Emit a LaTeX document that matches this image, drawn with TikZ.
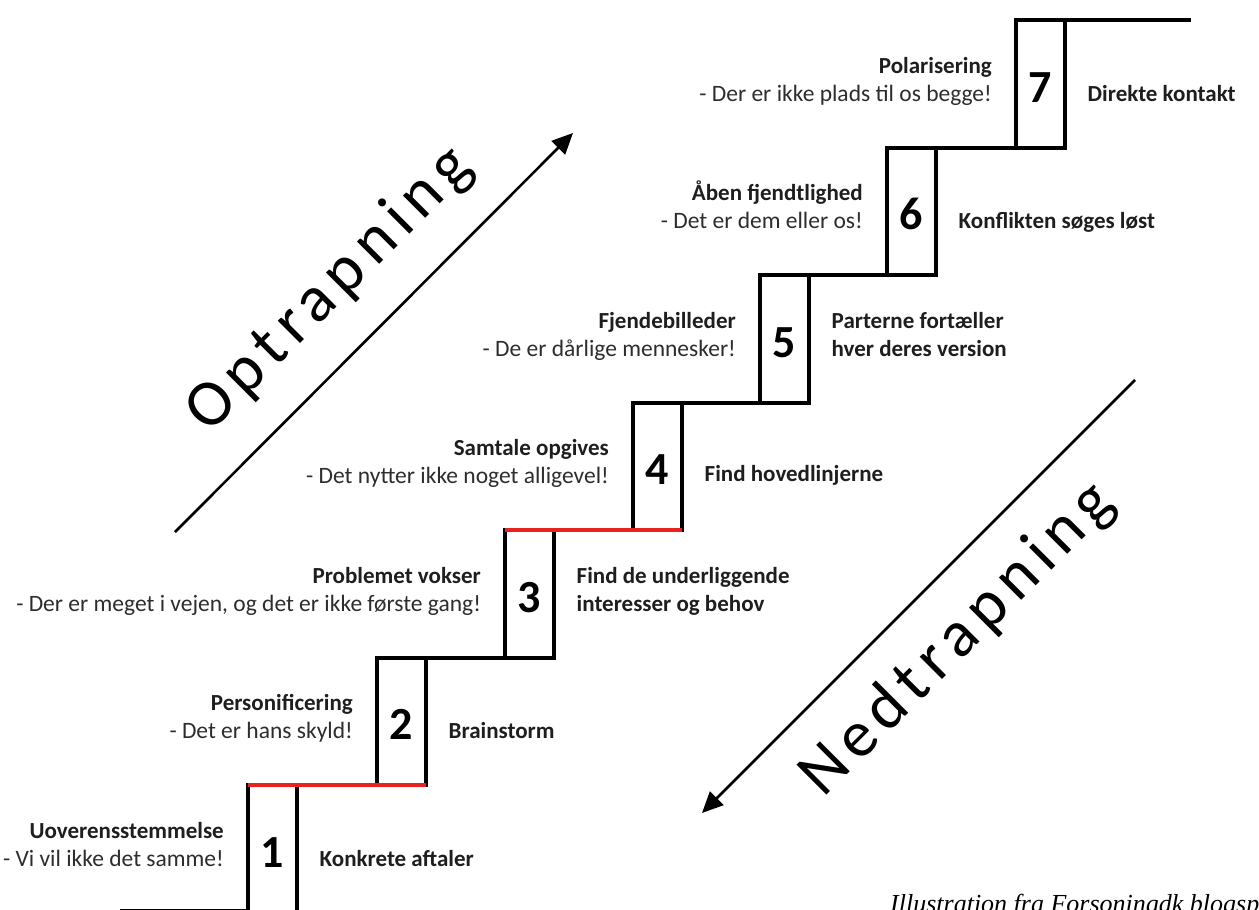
\documentclass[tikz,border=0pt]{standalone}
\usepackage{fontspec}
\setmainfont{Carlito}
\newfontfamily\bigfont[LetterSpace=12]{Carlito}
\newfontfamily\capfont{Liberation Serif}
\usetikzlibrary{arrows.meta,calc}
\definecolor{stairred}{RGB}{232,35,30}
\definecolor{labelink}{RGB}{30,30,30}
\definecolor{subink}{RGB}{45,45,45}

\begin{document}
\begin{tikzpicture}[x=1pt,y=-1pt,
  stepbox/.style={draw, line width=4pt, minimum width=49pt, minimum height=127.5pt, inner sep=0pt, outer sep=0pt},
  tread/.style={line width=4pt, line cap=square},
  num/.style={anchor=base, font=\fontsize{46}{46}\selectfont\bfseries, inner sep=0pt, text=black},
  lhead/.style={anchor=base east, font=\fontsize{23}{27}\selectfont\bfseries, text=labelink, inner sep=0pt},
  lsub/.style={anchor=base east, font=\fontsize{23.5}{27}\selectfont, text=subink, inner sep=0pt},
  rlab/.style={anchor=base west, font=\fontsize{23}{27}\selectfont\bfseries, text=labelink, inner sep=0pt},
  bigarrow/.style={line width=2.6pt, -{Triangle[length=21pt,width=19pt]}},
  bigword/.style={anchor=base, rotate=45, font=\bigfont\fontsize{66}{66}\selectfont, inner sep=0pt},
  captext/.style={anchor=base west, font=\capfont\itshape\fontsize{26}{26}\selectfont, inner sep=0pt}
]
\useasboundingbox (0,0) rectangle (1259,910);
\clip (0,0) rectangle (1259,910);
\fill[white] (0,0) rectangle (1259,910);

% step boxes
\node[stepbox] (b1) at (272.5,848.75) {};
\node[stepbox] (b2) at (401.5,721.25) {};
\node[stepbox] (b3) at (529.5,593.75) {};
\node[stepbox] (b4) at (657.5,466.25) {};
\node[stepbox] (b5) at (784.5,338.75) {};
\node[stepbox] (b6) at (911.5,211.25) {};
\node[stepbox] (b7) at (1040.5,83.75) {};

% treads
\coordinate (floor) at (120,911);
\coordinate (topend) at (1191,20);
\draw[tread] (floor) -- (floor -| b1.west);
\draw[tread] (b2.north west) -- (b3.south east);
\draw[tread] (b4.north west) -- (b5.south east);
\draw[tread] (b5.north west) -- (b6.south east);
\draw[tread] (b6.north west) -- (b7.south east);
\draw[tread] (b7.north west) -- (topend);
\draw[tread, stairred] (b1.north west) -- (b2.south east);
\draw[tread, stairred] (b3.north west) -- (b4.south east);

% numerals
\node[num] (n1) at ($(b1.north)+(0,82)$) {1};
\node[num] (n2) at ($(b2.north)+(0,82)$) {2};
\node[num] (n3) at ($(b3.north)+(0,82)$) {3};
\node[num] (n4) at ($(b4.north)+(0,82)$) {4};
\node[num] (n5) at ($(b5.north)+(0,82)$) {5};
\node[num] (n6) at ($(b6.north)+(0,82)$) {6};
\node[num] (n7) at ($(b7.north)+(0,82)$) {7};

% left labels
\node[lhead] (h1) at ($(b1.north west)+(-24,53)$) {Uoverensstemmelse};
\node[lsub]  (s1) at ($(b1.north west)+(-24,81)$) {- Vi vil ikke det samme!};
\node[lhead] (h2) at ($(b2.north west)+(-24,53)$) {Personificering};
\node[lsub]  (s2) at ($(b2.north west)+(-24,81)$) {- Det er hans skyld!};
\node[lhead] (h3) at ($(b3.north west)+(-24,53)$) {Problemet vokser};
\node[lsub]  (s3) at ($(b3.north west)+(-24,81)$) {- Der er meget i vejen, og det er ikke første gang!};
\node[lhead] (h4) at ($(b4.north west)+(-24,53)$) {Samtale opgives};
\node[lsub]  (s4) at ($(b4.north west)+(-24,81)$) {- Det nytter ikke noget alligevel!};
\node[lhead] (h5) at ($(b5.north west)+(-24,53)$) {Fjendebilleder};
\node[lsub]  (s5) at ($(b5.north west)+(-24,81)$) {- De er dårlige mennesker!};
\node[lhead] (h6) at ($(b6.north west)+(-24,53)$) {Åben fjendtlighed};
\node[lsub]  (s6) at ($(b6.north west)+(-24,81)$) {- Det er dem eller os!};
\node[lhead] (h7) at ($(b7.north west)+(-24,53)$) {Polarisering};
\node[lsub]  (s7) at ($(b7.north west)+(-24,81)$) {- Der er ikke plads til os begge!};

% right labels
\node[rlab] (r1) at ($(b1.north east)+(22.5,81)$) {Konkrete aftaler};
\node[rlab] (r2) at ($(b2.north east)+(22.5,81)$) {Brainstorm};
\node[rlab] (r3a) at ($(b3.north east)+(22.5,53)$) {Find de underliggende};
\node[rlab] (r3b) at ($(b3.north east)+(22.5,81)$) {interesser og behov};
\node[rlab] (r4) at ($(b4.north east)+(22.5,79)$) {Find hovedlinjerne};
\node[rlab] (r5a) at ($(b5.north east)+(22.5,53)$) {Parterne fortæller};
\node[rlab] (r5b) at ($(b5.north east)+(22.5,81)$) {hver deres version};
\node[rlab] (r6) at ($(b6.north east)+(22.5,81)$) {Konflikten søges løst};
\node[rlab] (r7) at ($(b7.north east)+(22.5,81)$) {Direkte kontakt};

% arrows
\coordinate (u0) at (175,532);
\coordinate (u1) at (573,133);
\draw[bigarrow] (u0) -- (u1);
\coordinate (d0) at (1135,380);
\coordinate (d1) at (702,813);
\draw[bigarrow] (d0) -- (d1);

\node[bigword] (up) at (342,302) {Optrapning};
\node[bigword] (down) at (970,652) {Nedtrapning};

% caption
\node[captext] (cap) at (890,912) {Illustration fra Forsoningdk blogsp};
\end{tikzpicture}
\end{document}
